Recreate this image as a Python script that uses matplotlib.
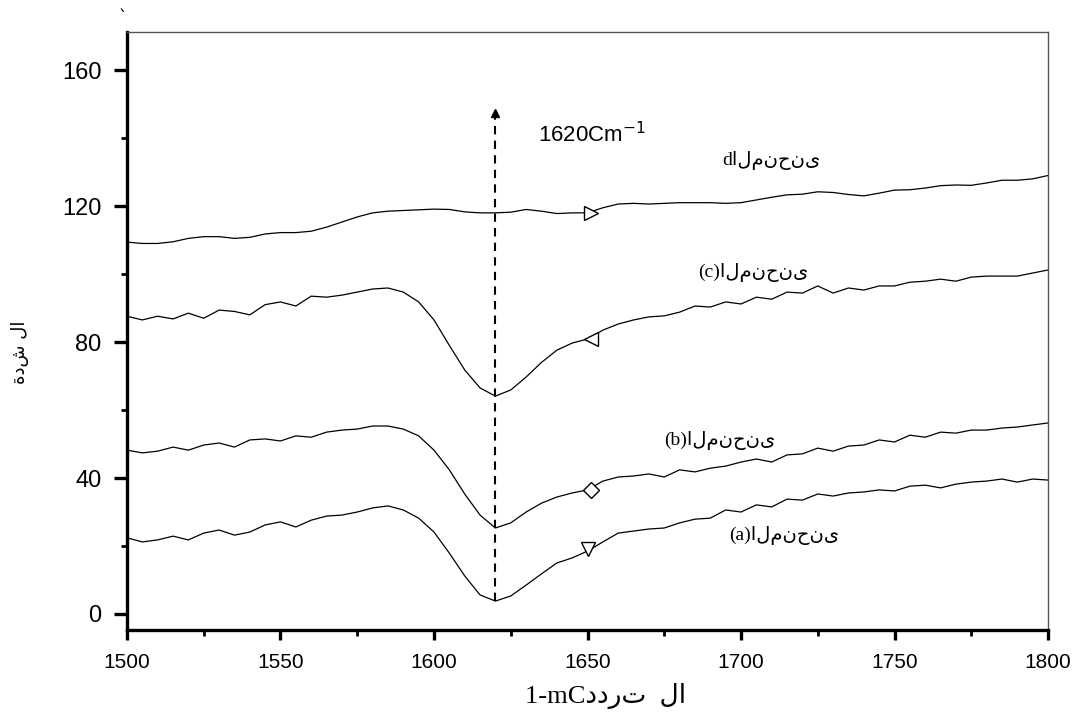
import numpy as np
import matplotlib
matplotlib.use('Agg')
from matplotlib import pyplot as plt
from matplotlib.ticker import MultipleLocator

# wavenumber grid (cm-1), read every 5 units
wn = np.arange(1500, 1801, 5)

curve_a = [22.4, 21.2, 21.8, 22.9, 21.8, 23.8, 24.7, 23.2, 24.1, 26.2,
           27.1, 25.6, 27.6, 28.8, 29.1, 30.0, 31.2, 31.8, 30.6, 28.2,
           24.1, 17.9, 11.2, 5.6, 3.8, 5.3, 8.5, 11.8, 15.0, 16.5,
           18.5, 21.2, 23.8, 24.4, 25.0, 25.3, 26.8, 27.9, 28.2, 30.6,
           30.0, 32.1, 31.5, 33.8, 33.5, 35.3, 34.7, 35.6, 35.9, 36.5,
           36.2, 37.6, 37.9, 37.1, 38.2, 38.8, 39.1, 39.7, 38.8, 39.7,
           39.4]
curve_b = [48.2, 47.4, 47.9, 49.1, 48.2, 49.7, 50.3, 49.1, 51.2, 51.5,
           50.9, 52.4, 52.0, 53.5, 54.1, 54.4, 55.3, 55.3, 54.4, 52.4,
           48.2, 42.4, 35.3, 29.1, 25.3, 26.8, 30.0, 32.6, 34.4, 35.6,
           36.5, 39.1, 40.3, 40.6, 41.2, 40.3, 42.4, 41.8, 42.9, 43.5,
           44.7, 45.6, 44.7, 46.8, 47.1, 48.8, 47.9, 49.4, 49.7, 51.2,
           50.6, 52.6, 52.0, 53.5, 53.2, 54.1, 54.1, 54.7, 55.0, 55.6,
           56.2]
curve_c = [87.6, 86.5, 87.6, 86.8, 88.5, 87.0, 89.4, 89.0, 88.0, 91.0,
           91.8, 90.6, 93.5, 93.2, 93.8, 94.7, 95.6, 95.9, 94.7, 91.8,
           86.5, 79.0, 71.8, 66.5, 64.1, 65.9, 69.7, 74.0, 77.6, 79.7,
           80.9, 83.5, 85.3, 86.5, 87.4, 87.7, 88.8, 90.6, 90.3, 91.8,
           91.2, 93.2, 92.6, 94.7, 94.4, 96.5, 94.4, 95.9, 95.3, 96.5,
           96.5, 97.6, 97.9, 98.5, 97.9, 99.1, 99.4, 99.4, 99.4, 100.3,
           101.2]
curve_d = [109.4, 109.0, 109.0, 109.5, 110.5, 111.0, 111.0, 110.5, 110.8, 111.8,
           112.2, 112.2, 112.6, 113.8, 115.3, 116.8, 118.0, 118.5, 118.7, 118.9,
           119.1, 119.0, 118.3, 118.0, 118.0, 118.2, 119.0, 118.5, 117.8, 118.0,
           118.0, 119.5, 120.6, 120.8, 120.6, 120.8, 121.0, 121.0, 121.0, 120.8,
           121.0, 121.8, 122.6, 123.3, 123.5, 124.2, 124.0, 123.4, 123.0, 123.8,
           124.7, 124.8, 125.3, 126.0, 126.2, 126.1, 126.8, 127.6, 127.6, 128.0,
           129.0]

# single marker on each curve
mark_x = [1650, 1651, 1651, 1651]
mark_y = [19.0, 36.5, 81.0, 118.0]
mark_sym = ['v', 'D', '<', '>']

labels = ['(a)المنحنى', '(b)المنحنى', '(c)المنحنى', 'dالمنحنى']
label_x = [1714, 1693, 1704, 1710]
label_y = [23.0, 51.0, 100.6, 133.3]

peak = 1620

arab = ['Liberation Serif', 'DejaVu Sans']

fig = plt.figure(figsize=(10.78, 7.18), dpi=100)
ax = fig.add_axes([0.1178, 0.1226, 0.8544, 0.8328])

for y in [curve_a, curve_b, curve_c, curve_d]:
    ax.plot(wn, y, color='black', lw=0.9)

for x, y, m in zip(mark_x, mark_y, mark_sym):
    ms = 8 if m == 'D' else 10
    ax.plot(x, y, marker=m, ms=ms, mfc='white', mec='black', mew=1.0, ls='none')

for t, x, y in zip(labels, label_x, label_y):
    ax.text(x, y, t, ha='center', va='center', fontsize=14, family=arab)

# dashed arrow at the band position
ax.plot([peak, peak], [3.8, 146], color='black', lw=1.5, ls=(0, (4, 3)))
ax.plot(peak, 147.5, marker='^', ms=6, color='black')
ax.text(1634, 141, '1620Cm$^{-1}$', fontsize=16, family='Liberation Sans',
        ha='left', va='center')

ax.set_xlim(1500, 1800)
ax.set_ylim(-4.7, 171.2)
ax.xaxis.set_major_locator(MultipleLocator(50))
ax.xaxis.set_minor_locator(MultipleLocator(25))
ax.yaxis.set_major_locator(MultipleLocator(40))
ax.yaxis.set_minor_locator(MultipleLocator(20))
ax.tick_params(axis='x', which='major', direction='out', length=7.5, width=2.4,
               labelsize=15, pad=9)
ax.tick_params(axis='y', which='major', direction='out', length=9.5, width=2.4,
               labelsize=17, pad=9)
ax.tick_params(which='minor', direction='out', length=4.5, width=2.0)
for lab in ax.get_xticklabels() + ax.get_yticklabels():
    lab.set_family('Liberation Sans')

for s in ['left', 'bottom']:
    ax.spines[s].set_linewidth(2.4)
for s in ['top', 'right']:
    ax.spines[s].set_linewidth(1.0)
    ax.spines[s].set_color('#555555')

# axis titles (glyphs placed in display order)
fig.text(0.562, 0.030, '1-mCددرت  لا', ha='center', va='center',
         fontsize=19, family=arab)
fig.text(0.019, 0.51, 'ةدش لا', ha='center', va='center', rotation=90,
         fontsize=13, family=['DejaVu Sans'])
fig.text(0.114, 0.975, '`', ha='center', va='center', fontsize=12)

fig.savefig('out.png', dpi=100)
